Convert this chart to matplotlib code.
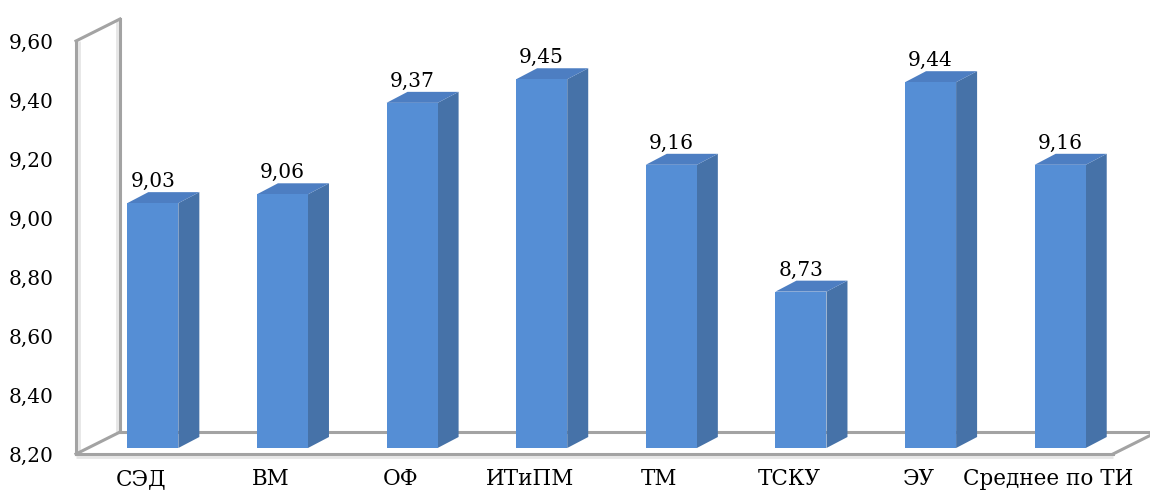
import matplotlib
matplotlib.use("Agg")
import matplotlib.pyplot as plt
from matplotlib import transforms
from matplotlib.patches import Polygon
from matplotlib.lines import Line2D
import numpy as np

categories = ["СЭД", "ВМ", "ОФ", "ИТиПМ", "ТМ", "ТСКУ", "ЭУ", "Среднее по ТИ"]
values = [9.03, 9.06, 9.37, 9.45, 9.16, 8.73, 9.44, 9.16]
y_ticks = [8.20, 8.40, 8.60, 8.80, 9.00, 9.20, 9.40, 9.60]

FRONT = "#558ED5"
SIDE = "#4672A8"
TOP = "#4D7EC2"
WALL = "#A3A3A3"
WALL_LIGHT = "#E6E6E6"

W, H, DPI = 1150, 492, 100
fig = plt.figure(figsize=(W / DPI, H / DPI), dpi=DPI)
ax = fig.add_axes([76 / W, (H - 454) / H, (1113 - 76) / W, (454 - 41) / H])
ymin, ymax = y_ticks[0], y_ticks[-1]
ax.set_xlim(-0.5, len(categories) - 0.5)
ax.set_ylim(ymin, ymax)
for s in ax.spines.values():
    s.set_visible(False)
ax.patch.set_alpha(0)

serif = ["DejaVu Serif"]
ax.set_yticks(y_ticks)
ax.set_yticklabels([f"{t:.2f}".replace(".", ",") for t in y_ticks],
                   family=serif, fontsize=14.5)
ax.set_xticks(range(len(categories)))
ax.set_xticklabels(categories, family=serif, fontsize=15.5)
ax.tick_params(axis="y", length=0, pad=16)
ax.tick_params(axis="x", length=0, pad=10)

# depth offsets (in dots) for the chart box and for the columns
def shifted(dx, dy):
    return ax.transData + transforms.ScaledTranslation(dx / DPI, dy / DPI, fig.dpi_scale_trans)

box_front = ax.transData
box_back = shifted(44, 22)
bar_front = shifted(12, 6)
bar_back = shifted(33, 17)
ident = transforms.IdentityTransform()

x0, x1 = -0.5, len(categories) - 0.5

def seg(p, q, tp, tq, shift=(0, 0), **kw):
    a = tp.transform(p) + np.array(shift)
    b = tq.transform(q) + np.array(shift)
    ln = Line2D([a[0], b[0]], [a[1], b[1]], transform=ident, clip_on=False, **kw)
    ax.add_artist(ln)

lk = dict(color=WALL, lw=2.2, zorder=1, solid_capstyle="projecting")
lk2 = dict(color=WALL_LIGHT, lw=2.0, zorder=0.9, solid_capstyle="butt")
# side wall (light inner shading next to the vertical edges)
seg((x0, ymin), (x0, ymax), box_front, box_front, shift=(3, 0), **lk2)
seg((x0, ymin), (x0, ymax), box_back, box_back, shift=(-3, 0), **lk2)
seg((x0, ymin), (x0, ymax), box_front, box_front, **lk)
seg((x0, ymin), (x0, ymax), box_back, box_back, **lk)
seg((x0, ymax), (x0, ymax), box_front, box_back, **lk)
seg((x0, ymin), (x0, ymin), box_front, box_back, **lk)
# floor
seg((x0, ymin), (x1, ymin), box_front, box_front, shift=(0, -3), **lk2)
seg((x0, ymin), (x1, ymin), box_front, box_front, **lk)
seg((x0, ymin), (x1 + 0.1, ymin), box_back, box_back, **lk)
seg((x1, ymin), (x1, ymin), box_front, box_back, **lk)

def poly(pts, color, z):
    p = Polygon(pts, closed=True, facecolor=color, edgecolor="none",
                transform=ident, zorder=z, clip_on=False)
    ax.add_artist(p)

bw = 0.394
xs = np.arange(len(categories))
bars = ax.bar(xs, np.array(values) - ymin, bottom=ymin, width=bw,
              color=FRONT, zorder=3, clip_on=False)
for b in bars:
    b.set_transform(bar_front)

for x, v in zip(xs, values):
    l, r = x - bw / 2, x + bw / 2
    # right side face
    side = [bar_front.transform((r, ymin)), bar_back.transform((r, ymin)),
            bar_back.transform((r, v)), bar_front.transform((r, v))]
    poly(side, SIDE, 2.5)
    # top face
    top = [bar_front.transform((l, v)), bar_front.transform((r, v)),
           bar_back.transform((r, v)), bar_back.transform((l, v))]
    poly(top, TOP, 2.5)
    ax.text(x, v, f"{v:.2f}".replace(".", ","), family=serif, fontsize=14.5,
            ha="center", va="baseline", transform=shifted(12, 6 + 16), zorder=4)

fig.savefig("out.png", dpi=DPI)
